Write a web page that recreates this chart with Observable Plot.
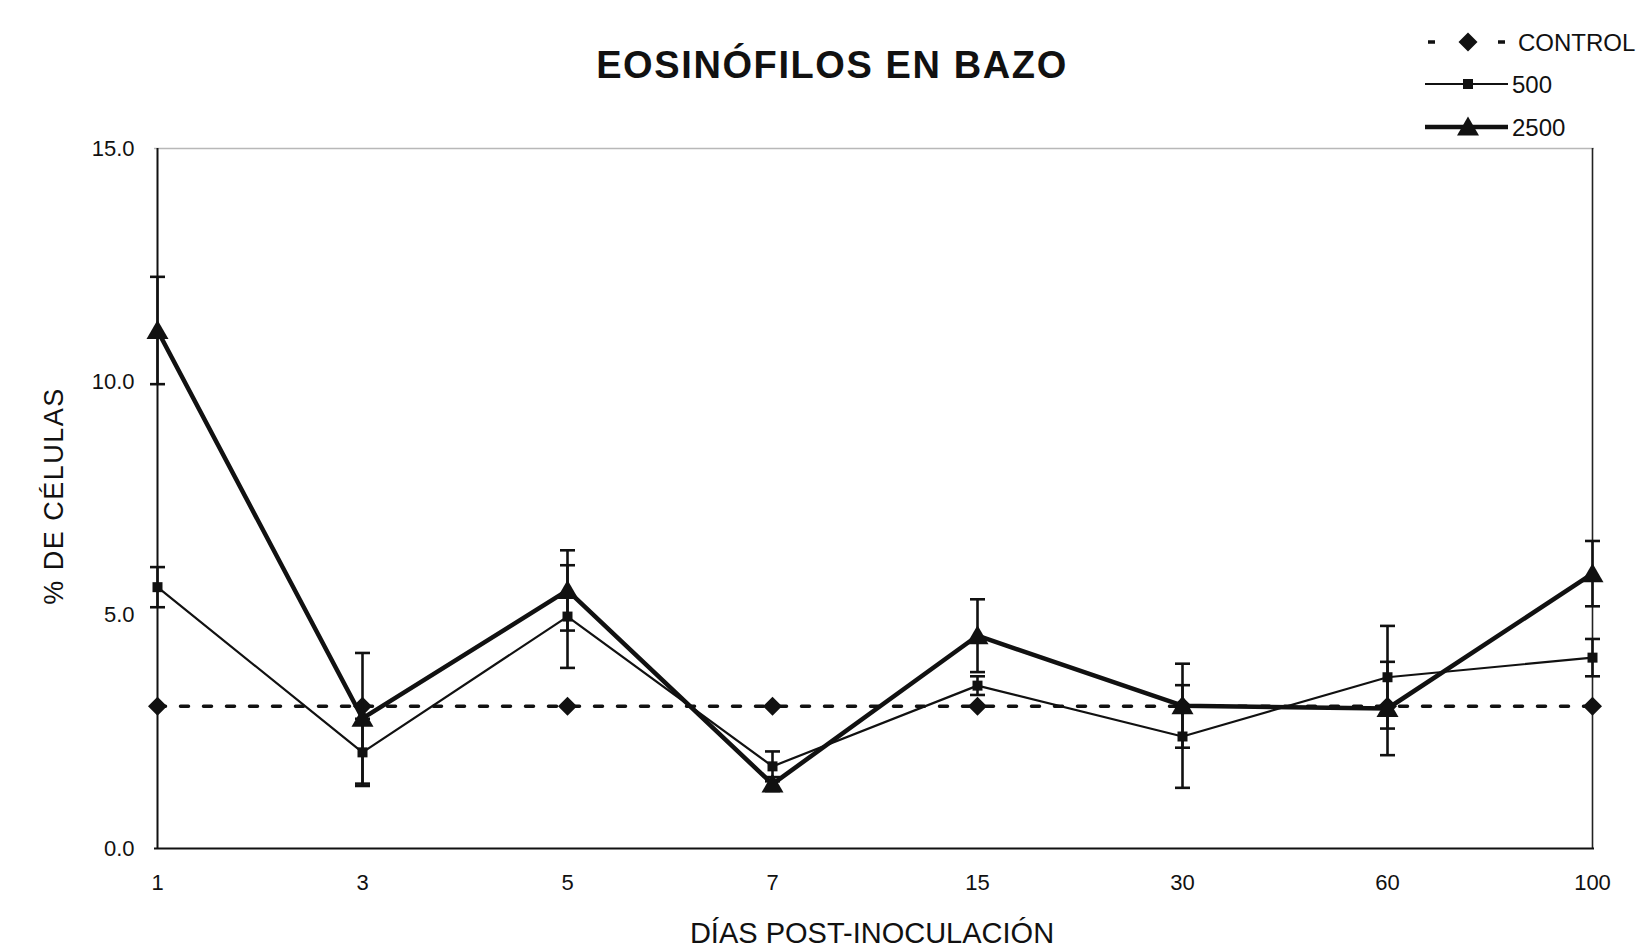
<!DOCTYPE html>
<html>
<head>
<meta charset="utf-8">
<script src="https://cdn.jsdelivr.net/npm/d3@7"></script>
<script src="https://cdn.jsdelivr.net/npm/@observablehq/plot@0.6"></script>
<style>
  html, body { margin: 0; padding: 0; background: #fff; }
  #wrap { position: relative; width: 1639px; height: 948px; overflow: hidden; }
  #overlay { position: absolute; left: 0; top: 0; pointer-events: none; }
  #chart svg { display: block; }
</style>
</head>
<body>
<div id="wrap">
  <div id="chart"></div>
  <svg id="overlay" width="1639" height="948" font-family="Liberation Sans, Arial, sans-serif"></svg>
</div>
<script>
// ---- data ----
const days = ["1", "3", "5", "7", "15", "30", "60", "100"];
const control = [3.05, 3.05, 3.05, 3.05, 3.05, 3.05, 3.05, 3.05];
const s500 = [5.6, 2.06, 4.97, 1.76, 3.49, 2.4, 3.67, 4.09];
const e500 = [0.43, 0.72, 1.1, 0.32, 0.2, 1.1, 1.1, 0.4];
const s2500 = [11.1, 2.79, 5.53, 1.38, 4.56, 3.06, 3.0, 5.89];
const e2500 = [1.15, 1.4, 0.86, 0.15, 0.78, 0.9, 1.0, 0.7];
const yTicks = [0, 5, 10, 15];
const seriesNames = ["CONTROL", "500", "2500"];
const titleText = "EOSINÓFILOS EN BAZO";
const xLabel = "DÍAS POST-INOCULACIÓN";
const yLabel = "% DE CÉLULAS";

const rowsControl = days.map((d, i) => ({day: d, v: control[i]}));
const rows500 = days.map((d, i) => ({day: d, v: s500[i], lo: s500[i] - e500[i], hi: s500[i] + e500[i]}));
const rows2500 = days.map((d, i) => ({day: d, v: s2500[i], lo: s2500[i] - e2500[i], hi: s2500[i] + e2500[i]}));

// custom symbols
const capSym = {draw(ctx) { ctx.moveTo(-7.5, 0); ctx.lineTo(7.5, 0); }};
const diamondSym = {draw(ctx) { ctx.moveTo(0, -9.5); ctx.lineTo(9.5, 0); ctx.lineTo(0, 9.5); ctx.lineTo(-9.5, 0); ctx.closePath(); }};
const squareSym = {draw(ctx) { ctx.rect(-5, -5, 10, 10); }};
const triSym = {draw(ctx) { ctx.moveTo(0, -10.5); ctx.lineTo(11, 8.5); ctx.lineTo(-11, 8.5); ctx.closePath(); }};

const errMarks = (rows) => [
  Plot.ruleX(rows, {x: "day", y1: "lo", y2: "hi", stroke: "#111", strokeWidth: 2.6}),
  Plot.dot(rows, {x: "day", y: "hi", symbol: capSym, stroke: "#111", strokeWidth: 2.6, fill: "none"}),
  Plot.dot(rows, {x: "day", y: "lo", symbol: capSym, stroke: "#111", strokeWidth: 2.6, fill: "none"})
];

const chart = Plot.plot({
  width: 1639,
  height: 948,
  marginLeft: 154,
  marginRight: 45,
  marginTop: 148,
  marginBottom: 100,
  style: {fontFamily: "Liberation Sans, Arial, sans-serif", fontSize: "22px", color: "#111", background: "#fff"},
  x: {type: "point", domain: days, padding: 0, label: null, tickSize: 0, tickPadding: 26},
  y: {domain: [0, 15], ticks: yTicks, tickFormat: d => d.toFixed(1), label: null, tickSize: 0, tickPadding: 20},
  marks: [
    Plot.ruleY([15], {stroke: "#b8b8b8", strokeWidth: 1.5}),
    Plot.ruleX([days[days.length - 1]], {y1: 0, y2: 15, stroke: "#222", strokeWidth: 1.6}),
    Plot.ruleX([days[0]], {y1: 0, y2: 15, stroke: "#111", strokeWidth: 2}),
    Plot.ruleY([0], {stroke: "#111", strokeWidth: 2}),
    Plot.line(rowsControl, {x: "day", y: "v", stroke: "#111", strokeWidth: 3.5, strokeDasharray: "8,15"}),
    Plot.dot(rowsControl, {x: "day", y: "v", symbol: diamondSym, fill: "#111", stroke: "none"}),
    ...errMarks(rows500),
    ...errMarks(rows2500),
    Plot.line(rows500, {x: "day", y: "v", stroke: "#111", strokeWidth: 2.2}),
    Plot.dot(rows500, {x: "day", y: "v", symbol: squareSym, fill: "#111", stroke: "none"}),
    Plot.line(rows2500, {x: "day", y: "v", stroke: "#111", strokeWidth: 4.5}),
    Plot.dot(rows2500, {x: "day", y: "v", symbol: triSym, fill: "#111", stroke: "none"})
  ]
});
document.getElementById("chart").appendChild(chart);

// ---- overlay: title, axis titles, legend ----
const ov = d3.select("#overlay");
ov.append("text").attr("x", 832).attr("y", 78).attr("text-anchor", "middle")
  .attr("font-size", 38).attr("font-weight", "bold").attr("letter-spacing", 1.6).attr("fill", "#111")
  .text(titleText);
ov.append("text").attr("x", 872).attr("y", 943).attr("text-anchor", "middle")
  .attr("font-size", 29).attr("fill", "#111").text(xLabel);
ov.append("text").attr("transform", "translate(63,496) rotate(-90)").attr("text-anchor", "middle")
  .attr("font-size", 27).attr("letter-spacing", 1.5).attr("fill", "#111").text(yLabel);

// legend
const legY = [42, 84, 127];
const legStyles = [
  {w: 3.5, dash: "7,28", sym: diamondSym},
  {w: 2.2, dash: null, sym: squareSym},
  {w: 4.5, dash: null, sym: triSym}
];
const symPath = (s) => { const p = d3.path(); s.draw(p); return p.toString(); };
seriesNames.forEach((name, i) => {
  const g = ov.append("g");
  const st = legStyles[i];
  const ln = g.append("line").attr("x1", 1425).attr("x2", i === 0 ? 1508 : 1508).attr("y1", legY[i]).attr("y2", legY[i])
    .attr("stroke", "#111").attr("stroke-width", st.w);
  if (st.dash) ln.attr("stroke-dasharray", st.dash).attr("x1", 1428).attr("x2", 1510);
  g.append("path").attr("d", symPath(st.sym)).attr("transform", `translate(1468,${legY[i]})`).attr("fill", "#111");
  g.append("text").attr("x", i === 0 ? 1518 : 1512).attr("y", legY[i] + 9).attr("font-size", 24).attr("fill", "#111")
    .text(name);
});
</script>
</body>
</html>
